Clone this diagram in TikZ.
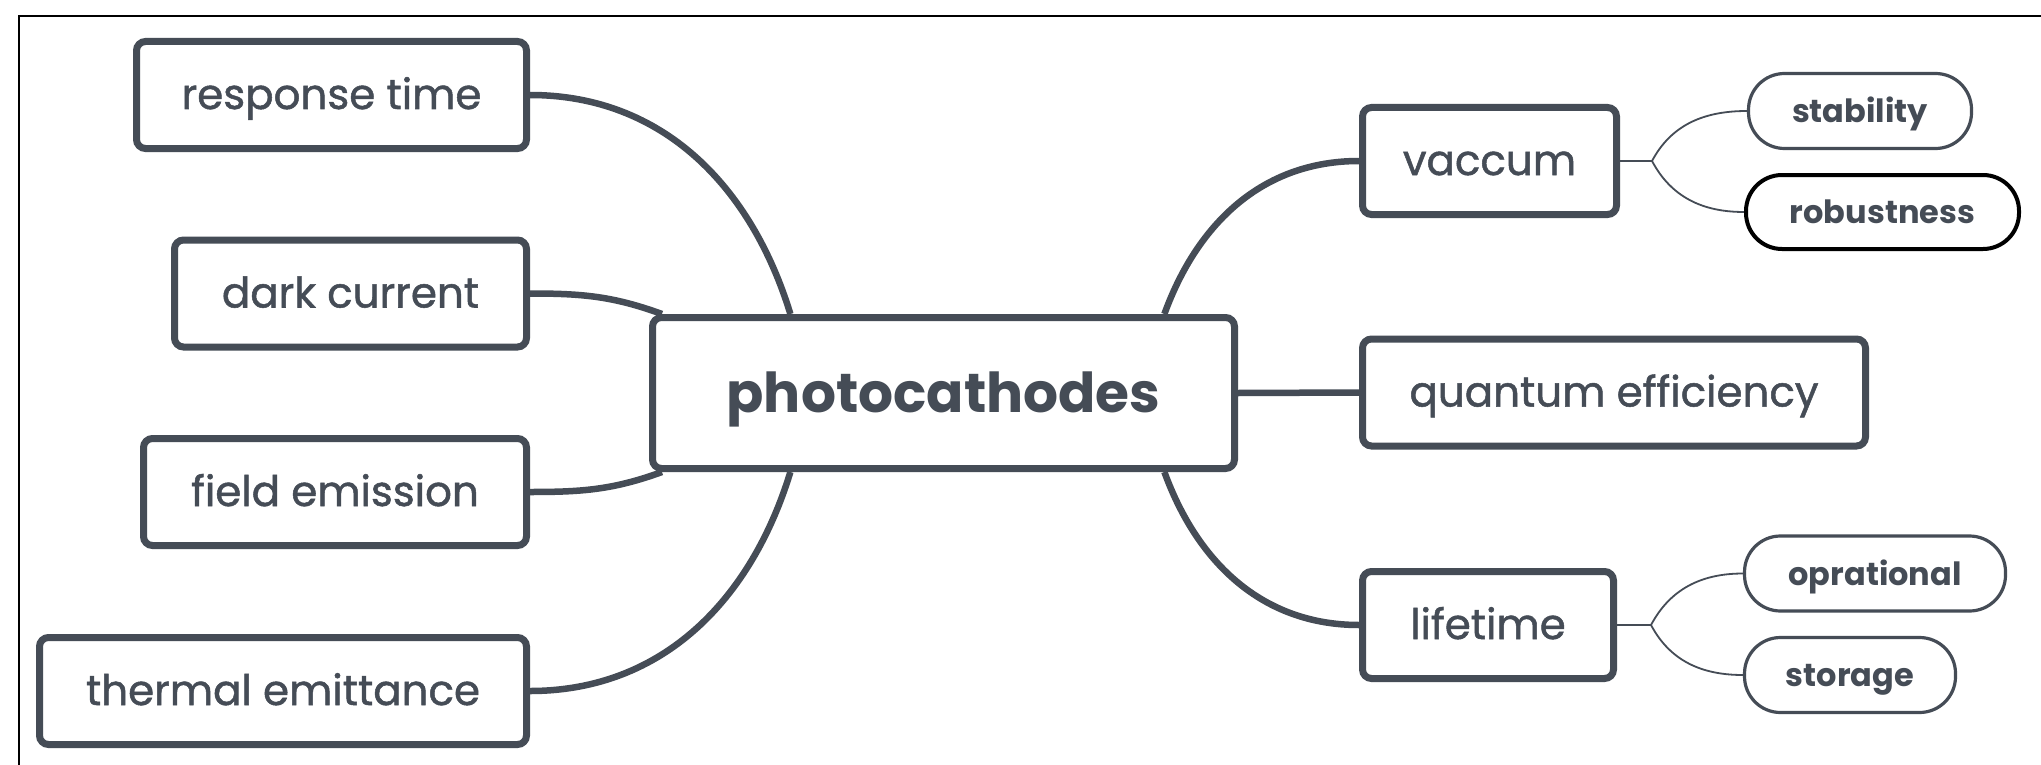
\documentclass[tikz,border=0pt]{standalone}
\usepackage{fontspec}
\setmainfont{Poppins}
\newfontfamily\topicfont{Poppins}[FakeBold=1.2]
\usetikzlibrary{calc}
\definecolor{ink}{HTML}{454C56}
\pgfdeclarelayer{background}
\pgfsetlayers{background,main}
\tikzset{
  x=1pt, y=-1pt,
  topic/.style={draw=ink, line width=7pt, rounded corners=9pt, fill=white,
    text=ink, inner sep=0pt, minimum height=107pt,
    text height=30pt, text depth=2pt,
    font=\topicfont\fontsize{42}{44}\selectfont},
  root/.style={draw=ink, line width=7pt, rounded corners=9pt, fill=white,
    text=ink, inner sep=0pt, minimum width=582pt, minimum height=151pt,
    text height=40pt, text depth=2pt,
    font=\fontsize{55}{57}\selectfont\bfseries},
  leaf/.style={draw=ink, line width=3.2pt, rounded corners=36pt, fill=white,
    text=ink, inner sep=0pt, minimum height=75pt,
    text height=25pt, text depth=1.6pt,
    font=\fontsize{32}{34}\selectfont\bfseries},
  mainlink/.style={draw=ink, line width=6.5pt},
  sublink/.style={draw=ink, line width=1.8pt},
}
\begin{document}
\begin{tikzpicture}
\useasboundingbox (0,0) rectangle (2041,765);

% central topic
\node[root] (root) at (943.5,393) {photocathodes};

% left topics
\node[topic, minimum width=390pt] (resp)  at (331.5,95)  {response time};
\node[topic, minimum width=352pt] (dark)  at (350.5,293.5) {dark current};
\node[topic, minimum width=383pt] (field) at (335,492)   {field emission};
\node[topic, minimum width=487pt] (therm) at (283,691)   {thermal emittance};

% right topics
\node[topic, minimum width=254pt] (vac)  at (1489.5,161) {vaccum};
\node[topic, minimum width=503pt] (qe)   at (1614,392.5) {quantum efficiency};
\node[topic, minimum width=251pt] (life) at (1488,625)   {lifetime};

% subtopics
\node[leaf, minimum width=223pt] (stab) at (1860,111) {stability};
\node[leaf, draw=black, line width=4pt, minimum width=273pt, minimum height=74pt] (rob) at (1882.5,212) {robustness};
\node[leaf, minimum width=261pt] (opr) at (1875,573.5) {oprational};
\node[leaf, minimum width=211pt] (stor) at (1850,675) {storage};

% attachment points on the central topic
\coordinate (rA) at ($(root.north west)!0.24!(root.north east)$);
\coordinate (rB) at ($(root.north west)!0.022!(root.north east)$);
\coordinate (rC) at ($(root.south west)!0.022!(root.south east)$);
\coordinate (rD) at ($(root.south west)!0.24!(root.south east)$);
\coordinate (rE) at ($(root.north west)!0.875!(root.north east)$);
\coordinate (rF) at ($(root.south west)!0.875!(root.south east)$);
\coordinate (vj) at ($(vac.east)+(32,0)$);
\coordinate (lj) at ($(life.east)+(34,0)$);

\begin{pgfonlayer}{background}
\fill[white] (0,0) rectangle (2041,765);
% outer frame (top and left edges)
\draw[black, line width=2pt] (19,765) -- (19,16) -- (2041,16);

\draw[mainlink] (resp.east)  to[out=0, in=107] (rA);
\draw[mainlink] (dark.east)  to[out=0, in=160] (rB);
\draw[mainlink] (field.east) to[out=0, in=200] (rC);
\draw[mainlink] (therm.east) to[out=0, in=253] (rD);
\draw[mainlink] (rE) to[out=70, in=180] (vac.west);
\draw[mainlink] (root.east) -- (qe.west);
\draw[mainlink] (rF) to[out=-70, in=180] (life.west);

\draw[sublink] (vac.east) -- (vj);
\draw[sublink] (vj) to[out=62, in=180] (stab.west);
\draw[sublink] (vj) to[out=-62, in=180] (rob.west);
\draw[sublink] (life.east) -- (lj);
\draw[sublink] (lj) to[out=62, in=180] (opr.west);
\draw[sublink] (lj) to[out=-62, in=180] (stor.west);
\end{pgfonlayer}
\end{tikzpicture}
\end{document}
